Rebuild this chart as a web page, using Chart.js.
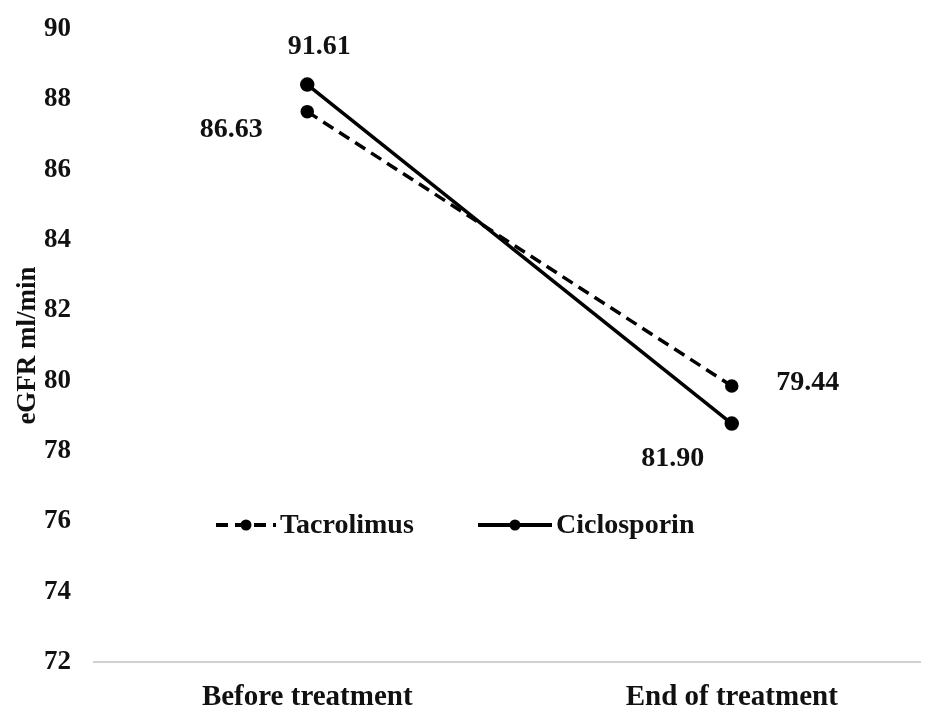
<!DOCTYPE html>
<html>
<head>
<meta charset="utf-8">
<script src="https://cdn.jsdelivr.net/npm/chart.js@4/dist/chart.umd.min.js"></script>
<style>
html,body{margin:0;padding:0;background:#fff;}
#wrap{width:930px;height:707px;position:relative;}
</style>
</head>
<body>
<div id="wrap"><canvas id="c"></canvas></div>
<script>
const categories = ['Before treatment', 'End of treatment'];
const seriesNames = ['Tacrolimus', 'Ciclosporin'];
const tacrolimus = [87.65, 79.85];
const ciclosporin = [88.42, 78.78];
const tacrolimusLabels = ['86.63', '79.44'];
const ciclosporinLabels = ['91.61', '81.90'];
const yTicks = [72, 74, 76, 78, 80, 82, 84, 86, 88, 90];

const FONT = '"Liberation Serif", "Times New Roman", serif';

// label offsets (style only)
const labelOffsets = [
  [[-76, 18], [76, -3]],
  [[12, -38], [-59, 35]]
];

const valueLabels = {
  id: 'valueLabels',
  afterDatasetsDraw(chart) {
    const ctx = chart.ctx;
    ctx.save();
    ctx.font = 'bold 28px ' + FONT;
    ctx.fillStyle = '#111';
    ctx.textAlign = 'center';
    ctx.textBaseline = 'middle';
    chart.data.datasets.forEach((ds, di) => {
      const meta = chart.getDatasetMeta(di);
      meta.data.forEach((pt, i) => {
        const off = labelOffsets[di][i];
        ctx.fillText(ds.valueLabels[i], pt.x + off[0], pt.y + off[1]);
      });
    });
    ctx.restore();
  }
};

const innerLegend = {
  id: 'innerLegend',
  afterDraw(chart) {
    const ctx = chart.ctx;
    const y = 525;
    const items = [{x0: 216, x1: 276}, {x0: 478, x1: 552}];
    ctx.save();
    chart.data.datasets.forEach((ds, di) => {
      const it = items[di];
      ctx.strokeStyle = ds.borderColor;
      ctx.lineWidth = 4;
      ctx.setLineDash(ds.borderDash || []);
      ctx.beginPath();
      ctx.moveTo(it.x0, y);
      ctx.lineTo(it.x1, y);
      ctx.stroke();
      ctx.setLineDash([]);
      ctx.fillStyle = ds.pointBackgroundColor;
      ctx.beginPath();
      ctx.arc((it.x0 + it.x1) / 2, y, 5.5, 0, Math.PI * 2);
      ctx.fill();
      ctx.font = 'bold 28px ' + FONT;
      ctx.fillStyle = '#111';
      ctx.textAlign = 'left';
      ctx.textBaseline = 'middle';
      ctx.fillText(ds.label, it.x1 + 4, y + 1);
    });
    ctx.restore();
  }
};

const toPoints = arr => arr.map((v, i) => ({x: i, y: v}));

new Chart(document.getElementById('c'), {
  type: 'line',
  data: {
    datasets: [
      {
        label: seriesNames[0],
        data: toPoints(tacrolimus),
        valueLabels: tacrolimusLabels,
        borderColor: '#000',
        backgroundColor: '#000',
        pointBackgroundColor: '#000',
        pointBorderColor: '#000',
        borderWidth: 3.5,
        borderDash: [12, 7],
        pointRadius: 5,
        tension: 0
      },
      {
        label: seriesNames[1],
        data: toPoints(ciclosporin),
        valueLabels: ciclosporinLabels,
        borderColor: '#000',
        backgroundColor: '#000',
        pointBackgroundColor: '#000',
        pointBorderColor: '#000',
        borderWidth: 3.5,
        pointRadius: 5.5,
        tension: 0
      }
    ]
  },
  options: {
    responsive: true,
    maintainAspectRatio: false,
    animation: false,
    layout: {padding: {top: 29, right: 0, left: 12, bottom: 0}},
    plugins: {legend: {display: false}, tooltip: {enabled: false}},
    scales: {
      x: {
        type: 'linear',
        min: -0.5047,
        max: 1.4458,
        afterBuildTicks(axis) { axis.ticks = categories.map((c, i) => ({value: i})); },
        afterFit(axis) { axis.height = 45; axis.paddingLeft = 0; axis.paddingRight = 0; },
        grid: {display: false},
        border: {display: false},
        ticks: {
          callback: v => categories[v] !== undefined ? categories[v] : '',
          color: '#111',
          font: {family: FONT, size: 29, weight: 'bold'},
          padding: 10,
          maxRotation: 0
        }
      },
      y: {
        min: 72,
        max: 90,
        afterBuildTicks(axis) { axis.ticks = yTicks.map(v => ({value: v})); },
        afterFit(axis) { axis.width = 81; axis.paddingTop = 0; axis.paddingBottom = 0; },
        grid: {
          drawTicks: false,
          color: ctx => ctx.tick && ctx.tick.value === 72 ? '#d0d0d0' : 'rgba(0,0,0,0)',
          lineWidth: 2
        },
        border: {display: false},
        title: {
          display: true,
          text: 'eGFR ml/min',
          color: '#111',
          font: {family: FONT, size: 27, weight: 'bold'},
          padding: 0
        },
        ticks: {
          color: '#111',
          font: {family: FONT, size: 27, weight: 'bold'},
          padding: 22
        }
      }
    }
  },
  plugins: [valueLabels, innerLegend]
});
</script>
</body>
</html>
